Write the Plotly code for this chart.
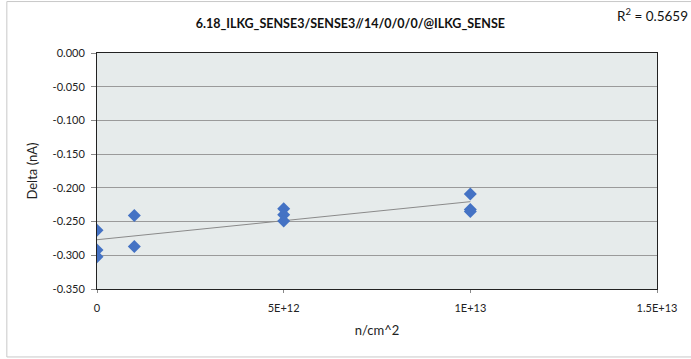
import numpy as np
import plotly.graph_objects as go

fluence = [0, 0, 0, 1e12, 1e12, 5e12, 5e12, 5e12, 1e13, 1e13, 1e13]
delta = [-0.263, -0.292, -0.302, -0.241, -0.287, -0.231, -0.240, -0.249, -0.209, -0.232, -0.235]

title = "6.18_ILKG_SENSE3/SENSE3//14/0/0/0/@ILKG_SENSE"
r2_text = "R<sup>2</sup> = 0.5659"
x_ticks = [0, 5e12, 1e13, 1.5e13]
x_labels = ["0", "5E+12", "1E+13", "1.5E+13"]
y_ticks = [0, -0.05, -0.1, -0.15, -0.2, -0.25, -0.3, -0.35]
y_labels = ["0.000", "-0.050", "-0.100", "-0.150", "-0.200", "-0.250", "-0.300", "-0.350"]

xa = np.array(fluence)
ya = np.array(delta)
slope, intercept = np.polyfit(xa, ya, 1)
tx = np.array([xa.min(), xa.max()])
ty = slope * tx + intercept

font = "Lato, 'Open Sans', sans-serif"

fig = go.Figure()
fig.add_trace(go.Scatter(x=tx, y=ty, mode="lines",
                         line=dict(color="#8a8a8a", width=1), hoverinfo="skip"))
fig.add_trace(go.Scatter(x=fluence, y=delta, mode="markers",
                         marker=dict(symbol="diamond", size=10, color="#4472C4")))

fig.update_layout(
    width=691, height=359,
    margin=dict(l=97, r=34, t=53, b=70),
    paper_bgcolor="white",
    plot_bgcolor="#E6EBEB",
    showlegend=False,
    font=dict(family=font, size=11, color="#222"),
    title=dict(text="<b>" + title + "</b>", x=0.507, xanchor="center", y=0.935, yanchor="middle",
               font=dict(size=12.5, family=font, color="#111")),
    xaxis=dict(range=[0, 1.5e13], tickvals=x_ticks, ticktext=x_labels,
               showgrid=False, zeroline=False, showline=True, linecolor="#222", linewidth=1,
               mirror=True, ticks="outside", ticklen=3, tickcolor="#888", ticklabelstandoff=6,
               title=dict(text="n/cm^2", font=dict(size=13, family=font), standoff=12)),
    yaxis=dict(range=[-0.35, 0], tickvals=y_ticks, ticktext=y_labels,
               showgrid=True, gridcolor="#9a9a9a", gridwidth=1, zeroline=False,
               showline=True, linecolor="#222", linewidth=1, mirror=True,
               ticks="outside", ticklen=5, tickcolor="#888", ticklabelstandoff=4,
               title=dict(text="Delta (nA)", font=dict(size=13, family=font), standoff=12)),
)
fig.add_annotation(text=r2_text, xref="paper", yref="paper", x=1.0, y=1.0,
                   xanchor="right", yanchor="middle", yshift=38, xshift=33, showarrow=False,
                   font=dict(size=13.5, family=font, color="#111"))
fig.add_shape(type="rect", xref="paper", yref="paper",
              x0=-0.161, x1=1.2, y0=-0.288, y1=1.218,
              line=dict(color="#c8c8c8", width=1))

fig.write_html("out.html", config={"displayModeBar": False},
               post_script="document.body.style.margin='0';document.body.style.padding='0';")
